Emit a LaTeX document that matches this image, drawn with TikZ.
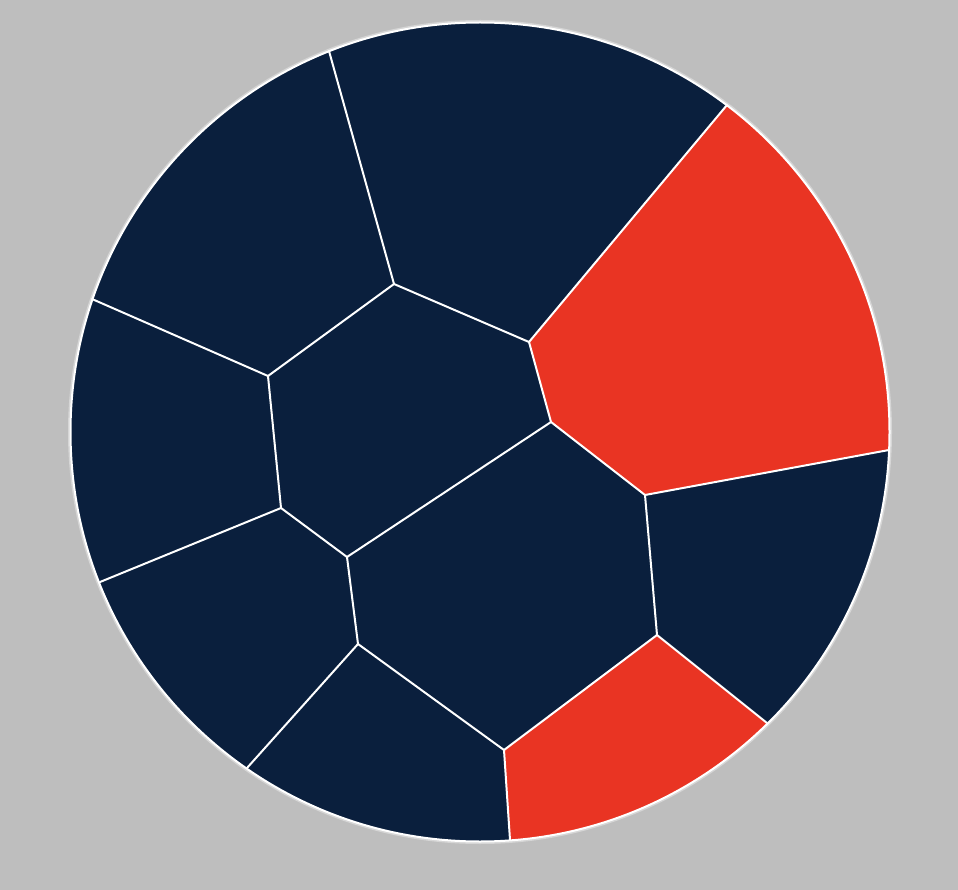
\documentclass[tikz,border=0pt]{standalone}
\definecolor{bg}{HTML}{BEBEBE}
\definecolor{navy}{HTML}{0A1F3D}
\definecolor{redc}{HTML}{E93423}
\definecolor{halo}{HTML}{D6D6D6}
\tikzset{edge/.style={white,line width=2pt,line cap=round}}
\begin{document}
\begin{tikzpicture}[x=1pt,y=-1pt]
\fill[bg] (0,0) rectangle (958,890);
\useasboundingbox (0,0) rectangle (958,890);
\coordinate (O) at (480,432);
% inner vertices
\coordinate (A) at (394,284);
\coordinate (B) at (529,342);
\coordinate (C) at (551,422);
\coordinate (D) at (268,376);
\coordinate (E) at (281,508);
\coordinate (F) at (347,557);
\coordinate (G) at (645,495);
\coordinate (H) at (657,635);
\coordinate (I) at (358,644);
\coordinate (J) at (504,750);
% boundary points
\coordinate (P1) at (329,51);
\coordinate (P2) at (727,105);
\coordinate (P3) at (889,450);
\coordinate (P4) at (767,723);
\coordinate (P5) at (510,840);
\coordinate (P6) at (247,768);
\coordinate (P7) at (100,582);
\coordinate (P8) at (92,299);
% outer helper points
\coordinate (Q2) at (801,-5);
\coordinate (Q3) at (1012,455);
\coordinate (R3) at (1012,-5);
\coordinate (Q4) at (853,810);
\coordinate (Q5) at (519,962);
\coordinate (R4) at (853,962);
% halo
\draw[halo,line width=5pt] (O) circle (409.5);
\fill[navy] (O) circle (409.5);
\begin{scope}
\clip (O) circle (409.5);
\fill[redc] (P2) -- (B) -- (C) -- (G) -- (P3) -- (Q3) -- (R3) -- (Q2) -- cycle;
\fill[redc] (P4) -- (H) -- (J) -- (P5) -- (Q5) -- (R4) -- (Q4) -- cycle;
\end{scope}
% edges
\draw[edge] (P1) -- (A);
\draw[edge] (A) -- (B);
\draw[edge] (B) -- (P2);
\draw[edge] (B) -- (C);
\draw[edge] (C) -- (F);
\draw[edge] (C) -- (G);
\draw[edge] (G) -- (P3);
\draw[edge] (G) -- (H);
\draw[edge] (H) -- (P4);
\draw[edge] (H) -- (J);
\draw[edge] (J) -- (P5);
\draw[edge] (J) -- (I);
\draw[edge] (I) -- (P6);
\draw[edge] (I) -- (F);
\draw[edge] (F) -- (E);
\draw[edge] (E) -- (P7);
\draw[edge] (E) -- (D);
\draw[edge] (D) -- (P8);
\draw[edge] (D) -- (A);
\draw[white,line width=2pt] (O) circle (409.5);
\end{tikzpicture}
\end{document}
